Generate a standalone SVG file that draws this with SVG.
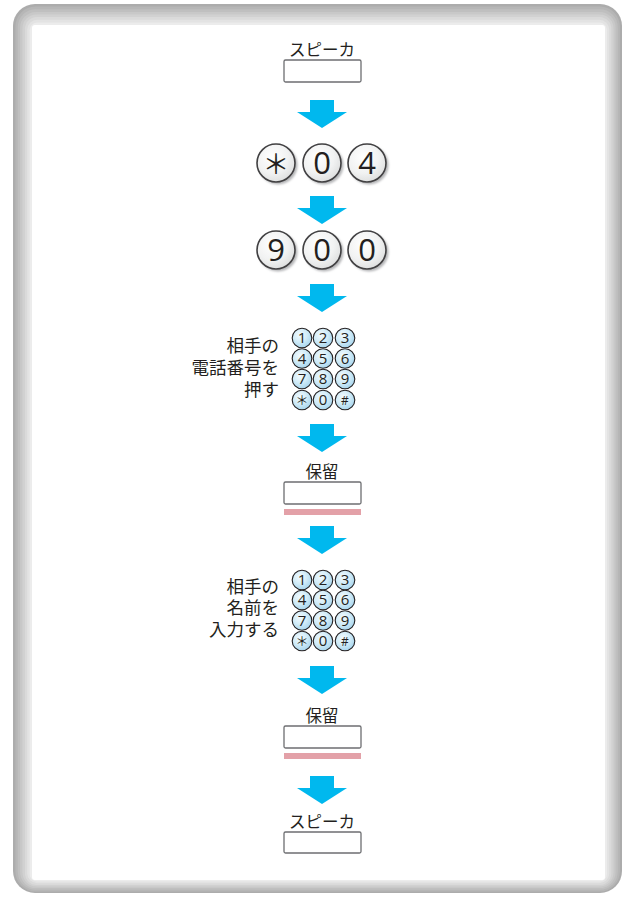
<svg xmlns="http://www.w3.org/2000/svg" xmlns:xlink="http://www.w3.org/1999/xlink" width="633" height="897" viewBox="0 0 633 897">
<style>
.lbl{font-family:"Noto Sans CJK JP","Noto Sans",sans-serif;font-size:17.5px;fill:#231f20}
.lblc{font-family:"Noto Sans CJK JP","Noto Sans",sans-serif;font-size:16.5px;fill:#231f20;text-anchor:middle}
.box{fill:#fff;stroke:#6d6e71;stroke-width:1.3}
.bar{fill:#e3a1a8}
.arrow{fill:#00b8ee}
.bk{fill:url(#gBig);stroke:#414042;stroke-width:1.6}
.bks{fill:#b5b6b8;filter:url(#blur)}
.bt{font-family:"Open Sans","Noto Sans",sans-serif;font-size:31px;fill:#231f20;text-anchor:middle}
.sk{fill:url(#gSmall);stroke:#231f20;stroke-width:1.1}
.st{font-family:"Open Sans","Noto Sans",sans-serif;font-size:15px;fill:#231f20;text-anchor:middle}
</style>
<defs>
<radialGradient id="gBig" cx="0.4" cy="0.35" r="0.7">
<stop offset="0" stop-color="#ffffff"/>
<stop offset="0.6" stop-color="#f1f2f2"/>
<stop offset="1" stop-color="#dcdddd"/>
</radialGradient>
<radialGradient id="gSmall" cx="0.4" cy="0.35" r="0.7">
<stop offset="0" stop-color="#f4fbfe"/>
<stop offset="0.5" stop-color="#d2ecf8"/>
<stop offset="1" stop-color="#a3d3ec"/>
</radialGradient>
<filter id="blur" x="-30%" y="-30%" width="160%" height="160%">
<feGaussianBlur stdDeviation="1.2"/>
</filter>
<path id="arrow" class="arrow" d="M-12,0 H12 V12 H25 L0,28 L-25,12 H-12 Z"/>
</defs>

<g id="frame">
<rect x="13" y="4" width="609" height="889" rx="22" fill="#acacac"/>
<rect x="15.4" y="6.6" width="604.5" height="884.8" rx="20" fill="#b6b6b6"/>
<rect x="17.75" y="9.25" width="600" height="880.5" rx="18" fill="#bfbfbf"/>
<rect x="20.1" y="11.9" width="595.5" height="876.2" rx="16" fill="#c8c8c8"/>
<rect x="22.5" y="14.5" width="591" height="872" rx="14" fill="#d1d1d1"/>
<rect x="24.9" y="17.1" width="586.5" height="867.8" rx="12" fill="#dadada"/>
<rect x="27.25" y="19.75" width="582" height="863.5" rx="10" fill="#e3e3e3"/>
<rect x="29.6" y="22.4" width="577.5" height="859.2" rx="8" fill="#ececec"/>
<rect x="32" y="25" width="573" height="855" rx="3" fill="#ffffff"/>
</g>

<g id="connectors">
<use xlink:href="#arrow" x="322" y="100"/>
<use xlink:href="#arrow" x="322" y="196"/>
<use xlink:href="#arrow" x="322" y="284"/>
<use xlink:href="#arrow" x="322" y="424"/>
<use xlink:href="#arrow" x="322" y="526"/>
<use xlink:href="#arrow" x="322" y="666"/>
<use xlink:href="#arrow" x="322" y="776"/>
</g>

<g id="speaker1">
<text class="lblc" x="322" y="56">スピーカ</text>
<rect class="box" x="284" y="60" width="77" height="22" rx="1.5"/>
</g>

<g id="keys904">
<circle class="bks" cx="278" cy="165" r="19.5"/>
<circle class="bk" cx="276" cy="163" r="19"/>
<text class="bt" x="276" y="173.5" style="font-family:'Noto Sans CJK JP',sans-serif;font-size:27px">＊</text>
<circle class="bks" cx="324" cy="165" r="19.5"/>
<circle class="bk" cx="322" cy="163" r="19"/>
<text class="bt" x="322" y="174">0</text>
<circle class="bks" cx="369" cy="165" r="19.5"/>
<circle class="bk" cx="367" cy="163" r="19"/>
<text class="bt" x="367" y="174">4</text>
</g>

<g id="keys900">
<circle class="bks" cx="278" cy="252" r="19.5"/>
<circle class="bk" cx="276" cy="250" r="19"/>
<text class="bt" x="276" y="261">9</text>
<circle class="bks" cx="324" cy="252" r="19.5"/>
<circle class="bk" cx="322" cy="250" r="19"/>
<text class="bt" x="322" y="261">0</text>
<circle class="bks" cx="369" cy="252" r="19.5"/>
<circle class="bk" cx="367" cy="250" r="19"/>
<text class="bt" x="367" y="261">0</text>
</g>

<g id="step-number">
<text class="lbl" text-anchor="end" x="279" y="352"><tspan x="279" y="352">相手の</tspan><tspan x="279" y="374">電話番号を</tspan><tspan x="279" y="396">押す</tspan></text>
<g id="keypad1">
<circle class="sk" cx="302" cy="338" r="9.8"/><text class="st" x="302" y="343.2">1</text>
<circle class="sk" cx="323" cy="338" r="9.8"/><text class="st" x="323" y="343.2">2</text>
<circle class="sk" cx="345" cy="338" r="9.8"/><text class="st" x="345" y="343.2">3</text>
<circle class="sk" cx="302" cy="358.5" r="9.8"/><text class="st" x="302" y="363.7">4</text>
<circle class="sk" cx="323" cy="358.5" r="9.8"/><text class="st" x="323" y="363.7">5</text>
<circle class="sk" cx="345" cy="358.5" r="9.8"/><text class="st" x="345" y="363.7">6</text>
<circle class="sk" cx="302" cy="379" r="9.8"/><text class="st" x="302" y="384.2">7</text>
<circle class="sk" cx="323" cy="379" r="9.8"/><text class="st" x="323" y="384.2">8</text>
<circle class="sk" cx="345" cy="379" r="9.8"/><text class="st" x="345" y="384.2">9</text>
<circle class="sk" cx="302" cy="400" r="9.8"/><text class="st" x="302" y="405" style="font-family:'Noto Sans CJK JP',sans-serif;font-size:13px">＊</text>
<circle class="sk" cx="323" cy="400" r="9.8"/><text class="st" x="323" y="405.2">0</text>
<circle class="sk" cx="345" cy="400" r="9.8"/><text class="st" x="345" y="404.5" style="font-size:12px">#</text>
</g>
</g>

<g id="hold1">
<text class="lblc" x="322" y="478">保留</text>
<rect class="box" x="284" y="482" width="77" height="22" rx="1.5"/>
<rect class="bar" x="284" y="509" width="77" height="6"/>
</g>

<g id="step-name">
<text class="lbl" text-anchor="end" x="279" y="593"><tspan x="279" y="593">相手の</tspan><tspan x="279" y="614">名前を</tspan><tspan x="279" y="636">入力する</tspan></text>
<g id="keypad2">
<circle class="sk" cx="302" cy="580" r="9.8"/><text class="st" x="302" y="585.2">1</text>
<circle class="sk" cx="323" cy="580" r="9.8"/><text class="st" x="323" y="585.2">2</text>
<circle class="sk" cx="345" cy="580" r="9.8"/><text class="st" x="345" y="585.2">3</text>
<circle class="sk" cx="302" cy="600" r="9.8"/><text class="st" x="302" y="605.2">4</text>
<circle class="sk" cx="323" cy="600" r="9.8"/><text class="st" x="323" y="605.2">5</text>
<circle class="sk" cx="345" cy="600" r="9.8"/><text class="st" x="345" y="605.2">6</text>
<circle class="sk" cx="302" cy="620.5" r="9.8"/><text class="st" x="302" y="625.7">7</text>
<circle class="sk" cx="323" cy="620.5" r="9.8"/><text class="st" x="323" y="625.7">8</text>
<circle class="sk" cx="345" cy="620.5" r="9.8"/><text class="st" x="345" y="625.7">9</text>
<circle class="sk" cx="302" cy="641" r="9.8"/><text class="st" x="302" y="646" style="font-family:'Noto Sans CJK JP',sans-serif;font-size:13px">＊</text>
<circle class="sk" cx="323" cy="641" r="9.8"/><text class="st" x="323" y="646.2">0</text>
<circle class="sk" cx="345" cy="641" r="9.8"/><text class="st" x="345" y="645.5" style="font-size:12px">#</text>
</g>
</g>

<g id="hold2">
<text class="lblc" x="322" y="722">保留</text>
<rect class="box" x="284" y="726" width="77" height="22" rx="1.5"/>
<rect class="bar" x="284" y="753" width="77" height="6"/>
</g>

<g id="speaker2">
<text class="lblc" x="322" y="828">スピーカ</text>
<rect class="box" x="284" y="832" width="77" height="21" rx="1.5"/>
</g>
</svg>
